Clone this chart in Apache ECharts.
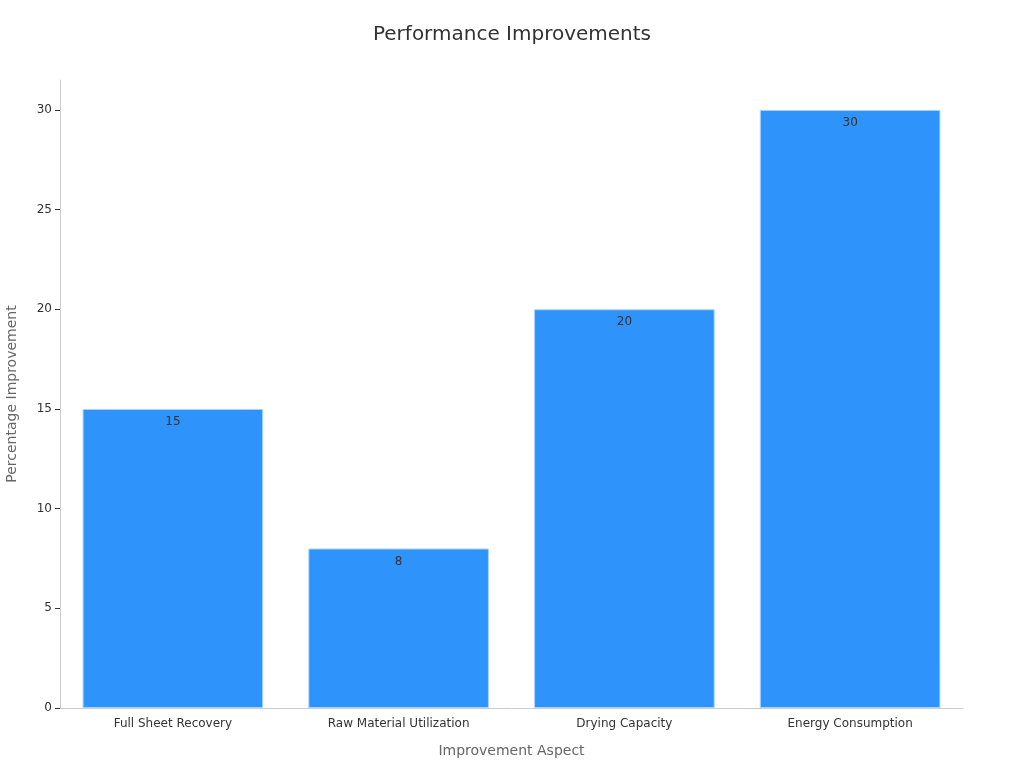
<!DOCTYPE html>
<html><head><meta charset="utf-8">
<script src="https://cdn.jsdelivr.net/npm/echarts@6/dist/echarts.min.js"></script>
<style>html,body{margin:0;padding:0;background:#fff}#c{width:1024px;height:768px}</style>
</head><body><div id="c"></div>
<script>
const categories = ["Full Sheet Recovery", "Raw Material Utilization", "Drying Capacity", "Energy Consumption"];
const values = [15, 8, 20, 30];
const chart = echarts.init(document.getElementById('c'));
chart.setOption({
  animation: false,
  textStyle: { fontFamily: 'DejaVu Sans' },
  title: { text: 'Performance Improvements', left: 'center', top: 20,
    textStyle: { fontSize: 20, fontWeight: 'normal', color: '#333', fontFamily: 'DejaVu Sans' } },
  grid: { left: 60, right: 61, top: 80, bottom: 60, outerBoundsMode: 'none', containLabel: false },
  xAxis: {
    type: 'category', data: categories,
    name: 'Improvement Aspect', nameLocation: 'middle', nameGap: 36,
    nameTextStyle: { fontSize: 14, color: '#666' },
    axisLine: { lineStyle: { color: '#ccc' } },
    axisTick: { alignWithLabel: true, lineStyle: { color: '#999' } },
    axisLabel: { color: '#333', fontSize: 12, margin: 10 }
  },
  yAxis: {
    type: 'value', min: 0, max: 31.5, interval: 5,
    name: 'Percentage Improvement', nameLocation: 'middle', nameGap: 41,
    nameTextStyle: { fontSize: 14, color: '#666' },
    axisLine: { show: true, lineStyle: { color: '#ccc' } },
    axisTick: { show: true, length: 5, lineStyle: { color: '#333' } },
    axisLabel: { color: '#333', fontSize: 12, showMaxLabel: false,
      formatter: v => (v % 5 === 0 ? String(v) : '') },
    splitLine: { show: false }
  },
  series: [{
    type: 'bar', data: values, barCategoryGap: '20%',
    itemStyle: { color: '#2e93fa', borderColor: '#a9d3ff', borderWidth: 1 },
    label: { show: true, position: 'insideTop', color: '#333', fontSize: 12, distance: 7 }
  }]
});
</script></body></html>
